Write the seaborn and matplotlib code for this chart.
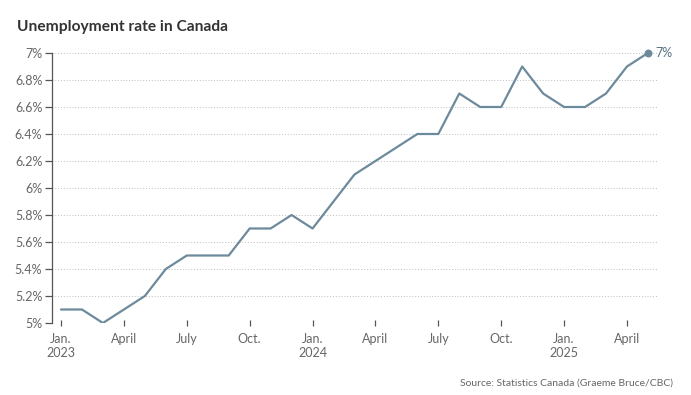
import seaborn as sns
import pandas as pd
import matplotlib.pyplot as plt

months = pd.date_range('2023-01-01', '2025-05-01', freq='MS')
rate = [5.1, 5.1, 5.0, 5.1, 5.2, 5.4, 5.5, 5.5, 5.5, 5.7, 5.7, 5.8,
        5.7, 5.9, 6.1, 6.2, 6.3, 6.4, 6.4, 6.7, 6.6, 6.6, 6.9, 6.7,
        6.6, 6.6, 6.7, 6.9, 7.0]
yticks = [5.0, 5.2, 5.4, 5.6, 5.8, 6.0, 6.2, 6.4, 6.6, 6.8, 7.0]
ytick_labels = ['5%', '5.2%', '5.4%', '5.6%', '5.8%', '6%', '6.2%', '6.4%', '6.6%', '6.8%', '7%']
xtick_idx = [0, 3, 6, 9, 12, 15, 18, 21, 24, 27]
xtick_labels = ['Jan.\n2023', 'April', 'July', 'Oct.', 'Jan.\n2024', 'April', 'July', 'Oct.',
                'Jan.\n2025', 'April']

sns.set_style('white')
plt.rcParams['font.family'] = ['Lato', 'DejaVu Sans']

line_color = '#6d8a9c'
grey = '#666666'

df = pd.DataFrame({'idx': range(len(rate)), 'rate': rate})

fig = plt.figure(figsize=(6.91, 3.95), dpi=100)
ax = fig.add_axes([52/691, 1-323/395, (658-52)/691, (323-53)/395])
sns.lineplot(data=df, x='idx', y='rate', color=line_color, linewidth=1.6, ax=ax)
ax.scatter([df['idx'].iloc[-1]], [rate[-1]], s=22, color=line_color, zorder=5, clip_on=False)
ax.text(df['idx'].iloc[-1] + 0.35, rate[-1], '7%', color='#55707f', fontsize=9,
        va='center', ha='left')

ax.set_xlim(-0.43, 28.48)
ax.set_ylim(5.0, 7.0)
ax.set_yticks(yticks)
ax.set_yticklabels(ytick_labels)
ax.set_xticks(xtick_idx)
ax.set_xticklabels(xtick_labels)
ax.set_xlabel('')
ax.set_ylabel('')

for y in yticks:
    ax.axhline(y, color='#b5b5b5', linestyle=(0, (1.2, 2.2)), linewidth=0.6, zorder=0)

for s in ['top', 'right', 'bottom']:
    ax.spines[s].set_visible(False)
ax.spines['left'].set_color('#555555')
ax.spines['left'].set_linewidth(0.9)
ax.tick_params(axis='y', length=5, width=0.9, color='#555555', labelsize=9,
               labelcolor=grey, pad=2, left=True)
ax.tick_params(axis='x', length=4, width=0.9, color='#555555', labelsize=9,
               labelcolor=grey, pad=5, bottom=True, direction='inout')

fig.text(17/691, 1-27/395, 'Unemployment rate in Canada', fontsize=11.2,
         fontweight='bold', color='#333333', va='center', ha='left')
fig.text(673/691, 1-383/395, 'Source: Statistics Canada (Graeme Bruce/CBC)', fontsize=7.5,
         color=grey, va='center', ha='right')

fig.savefig('out.png', dpi=100)
